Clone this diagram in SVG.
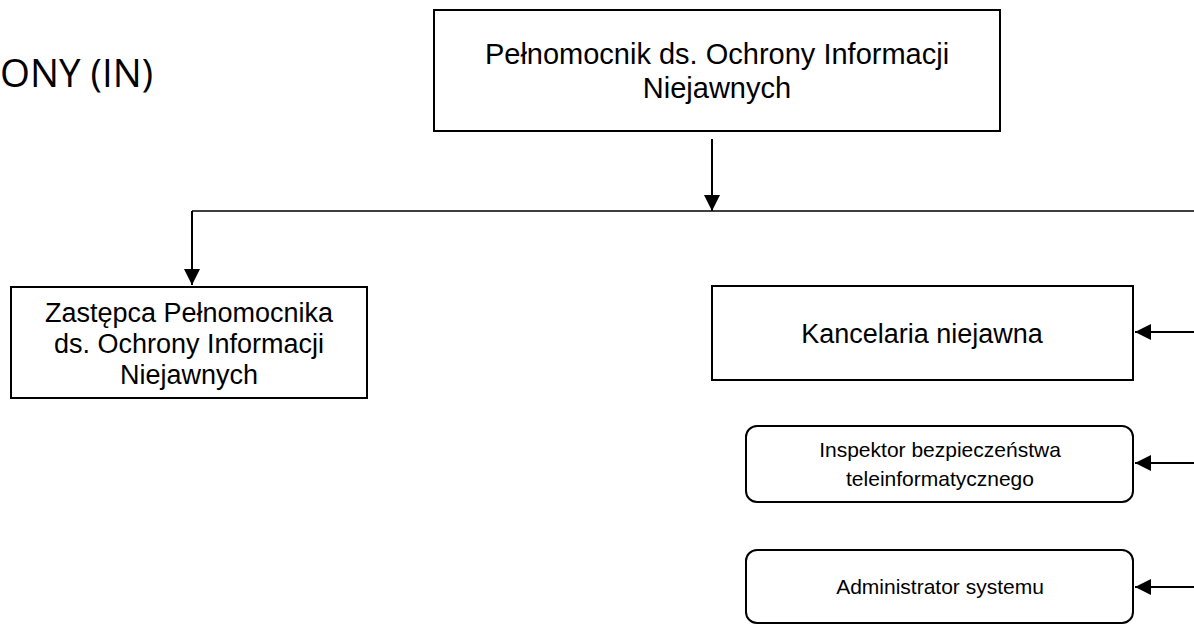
<svg xmlns="http://www.w3.org/2000/svg" width="1194" height="624" viewBox="0 0 1194 624">
<style>
.box{fill:#fff;stroke:#000;stroke-width:2}
.t{font-family:"Liberation Sans",Arial,sans-serif;fill:#000;text-anchor:middle}
.top{font-size:29px}
.big{font-size:27px}
.small{font-size:21px}
.ln{stroke:#000;stroke-width:2;fill:none}
.thin{stroke:#000;stroke-width:1.3;fill:none}
</style>
<defs>
<marker id="ah" viewBox="0 0 10 10" refX="10" refY="5" markerWidth="8" markerHeight="8" markerUnits="strokeWidth" orient="auto">
<path d="M0,0 L10,5 L0,10 z" fill="#000"/>
</marker>
</defs>
<text x="153" y="87" style="font-family:'Open Sans',sans-serif;font-size:38.5px;text-anchor:end">ONY (IN)</text>
<g id="pelnomocnik">
<rect class="box" x="434" y="10" width="566" height="121"/>
<text class="t top" x="717" y="64">Pełnomocnik ds. Ochrony Informacji</text>
<text class="t top" x="717" y="98">Niejawnych</text>
</g>
<g id="zastepca">
<rect class="box" x="11" y="287" width="356" height="111"/>
<text class="t big" x="189" y="322">Zastępca Pełnomocnika</text>
<text class="t big" x="189" y="353">ds. Ochrony Informacji</text>
<text class="t big" x="189" y="384">Niejawnych</text>
</g>
<g id="kancelaria">
<rect class="box" x="712" y="286" width="421" height="94"/>
<text class="t big" x="922" y="343">Kancelaria niejawna</text>
</g>
<g id="inspektor">
<rect class="box" x="746" y="426" width="387" height="76" rx="11"/>
<text class="t small" x="940" y="457">Inspektor bezpieczeństwa</text>
<text class="t small" x="940" y="486">teleinformatycznego</text>
</g>
<g id="administrator">
<rect class="box" x="746" y="550" width="387" height="73" rx="11"/>
<text class="t small" x="940" y="594">Administrator systemu</text>
</g>
<g id="connectors">
<line class="ln" x1="712" y1="139" x2="712" y2="211" marker-end="url(#ah)"/>
<polyline class="thin" points="1194,211 192,211"/>
<line class="ln" x1="192" y1="211" x2="192" y2="285" marker-end="url(#ah)"/>
<line class="ln" x1="1194" y1="332" x2="1135" y2="332" marker-end="url(#ah)"/>
<line class="ln" x1="1194" y1="463" x2="1135" y2="463" marker-end="url(#ah)"/>
<line class="ln" x1="1194" y1="587" x2="1135" y2="587" marker-end="url(#ah)"/>
</g>
</svg>
